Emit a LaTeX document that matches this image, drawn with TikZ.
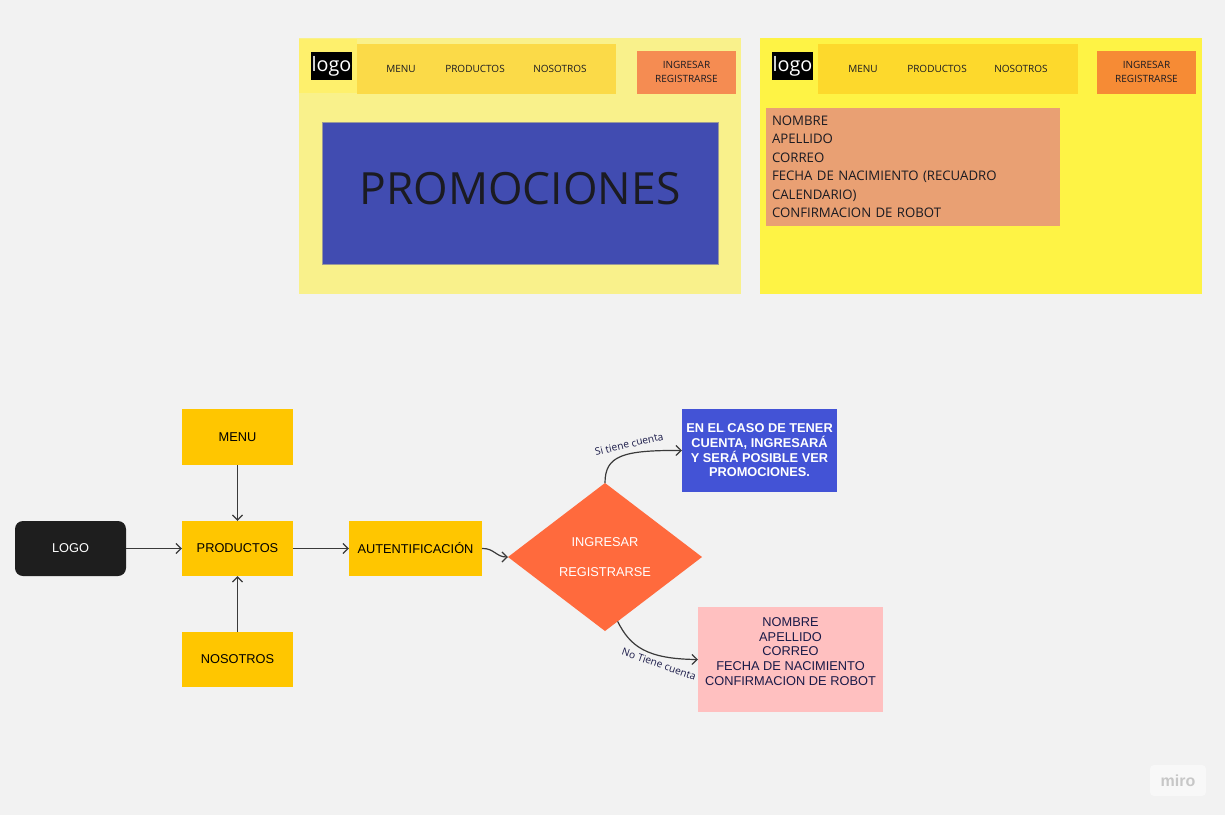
\documentclass[tikz,border=0pt]{standalone}
\usepackage{fontspec}
\setmainfont{Liberation Sans}
\newfontfamily\osans{Open Sans}
\usetikzlibrary{shapes.geometric,arrows.meta,calc}
\definecolor{bgc}{HTML}{F2F2F2}
\definecolor{panelA}{HTML}{F9F18B}
\definecolor{patchA}{HTML}{FEF06C}
\definecolor{navA}{HTML}{FBDA48}
\definecolor{btnA}{HTML}{F58C52}
\definecolor{promo}{HTML}{414CB1}
\definecolor{panelB}{HTML}{FEF345}
\definecolor{navB}{HTML}{FDD92C}
\definecolor{btnB}{HTML}{F68B35}
\definecolor{formc}{HTML}{E9A073}
\definecolor{fyel}{HTML}{FFC600}
\definecolor{logoc}{HTML}{1E1E1E}
\definecolor{diac}{HTML}{FF6A3D}
\definecolor{blueb}{HTML}{4353D6}
\definecolor{pinkb}{HTML}{FFC0C0}
\definecolor{linec}{HTML}{3A3A3A}
\definecolor{navy}{HTML}{1A1A48}
\definecolor{dtext}{HTML}{1B1B22}
\begin{document}
\begin{tikzpicture}[x=0.5pt,y=-0.5pt,
  area/.style={inner sep=0pt, outer sep=0pt},
  sz/.style 2 args={minimum width=#1*0.5pt, minimum height=#2*0.5pt},
  navtxt/.style={font=\osans\fontsize{5}{7}\selectfont, text=dtext, inner sep=0pt},
  logobox/.style={area, fill=black, text=white, font=\osans\fontsize{9.9}{10}\selectfont, sz={41}{28}},
  btntxt/.style={area, align=center, text=dtext, font=\osans\fontsize{5}{7}\selectfont, sz={99}{43}},
  fbox/.style={area, fill=fyel, text=black, font=\fontsize{6.4}{7.7}\selectfont},
  flow/.style={draw=linec, line width=0.6pt, -{Straight Barb[length=2.6pt,width=5pt]}},
  elab/.style={font=\osans\fontsize{5.1}{6}\selectfont, text=navy, inner sep=0pt}]
\useasboundingbox (0,0) rectangle (1225,815);
\fill[bgc] (0,0) rectangle (1225,815);

% ---- left mockup ----
\node[area, fill=panelA, sz={442}{256}] (pA) at (520,166) {};
\node[area, fill=patchA, sz={58}{54}] (patchA) at (328,66) {};
\node[area, fill=navA, sz={259}{50}] (navA) at (486.5,69) {};
\node[logobox] (logoA) at (331.5,66) {logo};
\node[navtxt] (mA1) at (401,68.5) {MENU};
\node[navtxt] (mA2) at (475,68.5) {PRODUCTOS};
\node[navtxt] (mA3) at (560,68.5) {NOSOTROS};
\node[btntxt, fill=btnA] (btnA) at (686.5,72) {INGRESAR\\REGISTRARSE};
\node[area, fill=promo, draw=gray!80, line width=0.4pt, sz={396}{142},
  label={[yshift=2pt, text=dtext, font=\osans\fontsize{22.2}{24}\selectfont]center:PROMOCIONES}] (promo) at (520,193) {};

% ---- right mockup ----
\node[area, fill=panelB, sz={442}{256}] (pB) at (981,166) {};
\node[area, fill=navB, sz={260}{50}] (navB) at (948,69) {};
\node[logobox] (logoB) at (792.5,66) {logo};
\node[navtxt] (mB1) at (863,68.5) {MENU};
\node[navtxt] (mB2) at (937,68.5) {PRODUCTOS};
\node[navtxt] (mB3) at (1021,68.5) {NOSOTROS};
\node[btntxt, fill=btnB] (btnB) at (1146.5,72) {INGRESAR\\REGISTRARSE};
\node[area, fill=formc, sz={294}{118}, align=left, text width=141pt,
  text=dtext, font=\osans\fontsize{6.6}{9.25}\selectfont] (form) at (913,167)
  {NOMBRE\\APELLIDO\\CORREO\\FECHA DE NACIMIENTO (RECUADRO\\CALENDARIO)\\CONFIRMACION DE ROBOT};

% ---- flowchart ----
\node[area, fill=logoc, rounded corners=4pt, sz={111}{55}, text=white,
  font=\fontsize{6.4}{7.7}\selectfont] (logo) at (70.5,548.5) {LOGO};
\node[fbox, sz={111}{56}] (menu) at (237.5,437) {MENU};
\node[fbox, sz={111}{55}] (prod) at (237.5,548.5) {PRODUCTOS};
\node[fbox, sz={111}{55}] (nos) at (237.5,659.5) {NOSOTROS};
\node[fbox, sz={133}{55}] (aut) at (415.5,548.5) {AUTENTIFICACIÓN};
\node[diamond, fill=diac, inner sep=0pt, outer sep=0pt, minimum width=97pt, minimum height=74pt,
  aspect=1.32, text=white, align=center, font=\fontsize{6.4}{7.7}\selectfont] (dia) at (605,557)
  {INGRESAR\\[7.3pt]REGISTRARSE};
\node[area, fill=blueb, sz={155}{83}, text=white, align=center,
  font=\bfseries\fontsize{6.4}{7.35}\selectfont] (si) at (759.5,450.5)
  {EN EL CASO DE TENER\\CUENTA, INGRESARÁ\\Y SERÁ POSIBLE VER\\PROMOCIONES.};
\node[area, fill=pinkb, sz={185}{105},
  label={[yshift=4pt, align=center, text=navy, font=\fontsize{6.4}{7.3}\selectfont]center:{NOMBRE\\APELLIDO\\CORREO\\FECHA DE NACIMIENTO\\CONFIRMACION DE ROBOT}}] (no) at (790.5,659.5) {};

\draw[flow] (logo.east) -- (prod.west);
\draw[flow] (menu.south) -- (prod.north);
\draw[flow] (nos.north) -- (prod.south);
\draw[flow] (prod.east) -- (aut.west);
\draw[flow] (aut.east) .. controls (494,548) and (496,557) .. (dia.west);
\draw[flow] (dia.north) .. controls (605,456) and (622,450) .. (si.west);
\coordinate (dstart) at ($(dia.south)!0.13!(dia.east)$);
\draw[flow] (dstart) .. controls (630,646) and (646,659) .. (no.west);
\node[elab, rotate=13] (lsi) at (629,444) {Si tiene cuenta};
\node[elab, rotate=-19] (lno) at (659,664) {No Tiene cuenta};

% ---- watermark ----
\node[area, fill=white!50!bgc, rounded corners=2pt, sz={56}{31},
  text=black!22, font=\bfseries\fontsize{8}{9}\selectfont] (miro) at (1178,780.5) {miro};
\end{tikzpicture}
\end{document}
